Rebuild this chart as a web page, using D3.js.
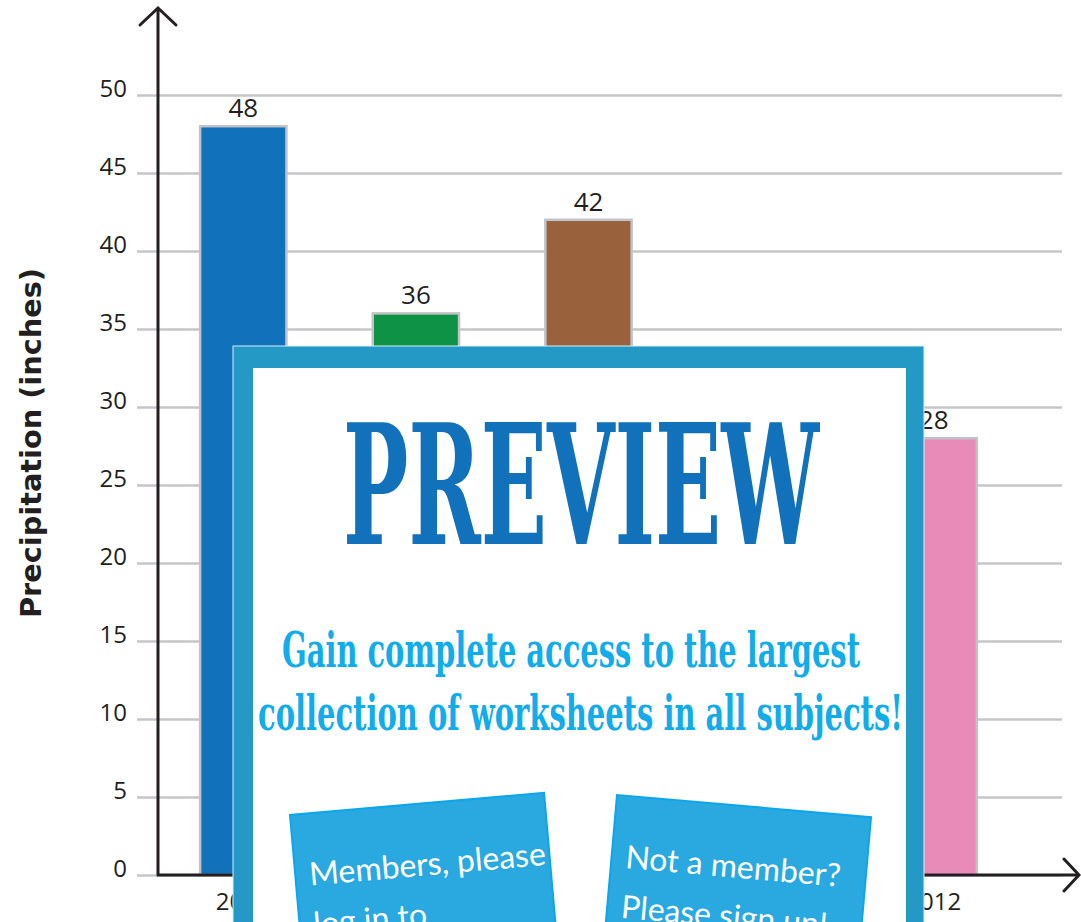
<!DOCTYPE html>
<html>
<head>
	<meta charset="utf-8">
	<title>Precipitation</title>
	<script src="https://d3js.org/d3.v7.min.js"></script>
	<style>
		body { margin: 0; background: #fff; }
		svg { display: block; }
	</style>
</head>
<body>
	<div class="chart"></div>

	<script type="text/javascript">

		// data
		var years = ['2008', '2009', '2010', '2011', '2012']
		var precip = [48, 36, 42, 24, 28]
		var barColors = ['#1172bb', '#0e9346', '#99623c', '#7b4fa0', '#e88bb8']
		var yTicks = [0, 5, 10, 15, 20, 25, 30, 35, 40, 45, 50]

		var width = 1081
		var height = 922

		var svg = d3
			.select('.chart')
			.append('svg')
			.attr('width', width)
			.attr('height', height)

		// scales
		var xScale = d3.scaleBand()
			.domain(years)
			.range([157, 1020])
			.paddingInner(0.5)
			.paddingOuter(0.25)
		var yScale = d3.scaleLinear().domain([0, 50]).range([875, 95])

		// gridlines + y tick labels
		var yAxis = d3.axisLeft(yScale)
			.tickValues(yTicks)
			.tickSize(-925)
			.tickPadding(10)
		var gy = svg.append('g')
			.attr('transform', 'translate(137, 0)')
			.call(yAxis)
		gy.select('.domain').remove()
		gy.selectAll('line').attr('stroke', '#c6c6ca').attr('stroke-width', 2.5)
		gy.selectAll('text')
			.attr('dy', '0.05em')
			.style('font-family', '"Open Sans", "Noto Sans", sans-serif')
			.style('font-size', '24px')
			.style('fill', '#231f20')

		// bars
		svg.append('g')
			.selectAll('rect')
			.data(precip)
			.enter()
			.append('rect')
			.attr('x', (d, i) => xScale(years[i]))
			.attr('y', (d) => yScale(d))
			.attr('width', xScale.bandwidth())
			.attr('height', (d) => yScale(0) - yScale(d))
			.attr('fill', (d, i) => barColors[i])
			.attr('stroke', '#c3c3c7')
			.attr('stroke-width', 2.5)

		// value labels
		svg.append('g')
			.selectAll('text')
			.data(precip)
			.enter()
			.append('text')
			.attr('x', (d, i) => xScale(years[i]) + xScale.bandwidth() / 2)
			.attr('y', (d) => yScale(d) - 9)
			.attr('text-anchor', 'middle')
			.style('font-family', '"Open Sans", "Noto Sans", sans-serif')
			.style('font-size', '26px')
			.style('fill', '#231f20')
			.text((d) => d)

		// x axis labels
		var xAxis = d3.axisBottom(xScale).tickSize(0).tickPadding(18)
		var gx = svg.append('g')
			.attr('transform', 'translate(0, 875)')
			.call(xAxis)
		gx.select('.domain').remove()
		gx.selectAll('text')
			.style('font-family', '"Open Sans", "Noto Sans", sans-serif')
			.style('font-size', '24px')
			.style('fill', '#231f20')

		// axis lines with arrows
		var axisLines = svg.append('g')
			.attr('fill', 'none')
			.attr('stroke', '#231f20')
			.attr('stroke-width', 3)
		axisLines.append('path').attr('d', 'M158,876 V8')
		axisLines.append('path').attr('d', 'M140,25 L158,8 L176,25').attr('stroke-linecap', 'round')
		axisLines.append('path').attr('d', 'M157,875 H1078')
		axisLines.append('path').attr('d', 'M1064,859 L1079,875 L1064,891').attr('stroke-linecap', 'round')

		// y axis title
		svg.append('text')
			.attr('transform', 'translate(41, 443) rotate(-90)')
			.attr('text-anchor', 'middle')
			.attr('textLength', 350)
			.attr('lengthAdjust', 'spacingAndGlyphs')
			.style('font-family', '"DejaVu Sans", sans-serif')
			.style('font-weight', 'bold')
			.style('font-size', '28px')
			.style('fill', '#231f20')
			.text('Precipitation (inches)')

		// preview overlay
		var ov = svg.append('g')
		ov.append('rect')
			.attr('x', 233).attr('y', 346)
			.attr('width', 691).attr('height', 620)
			.attr('fill', '#2499c5')
			.attr('stroke', '#d8eef7').attr('stroke-width', 1)
		ov.append('rect')
			.attr('x', 253).attr('y', 368)
			.attr('width', 653).attr('height', 620)
			.attr('fill', '#fff')

		ov.append('text')
			.attr('x', 343).attr('y', 544)
			.attr('textLength', 476)
			.attr('lengthAdjust', 'spacingAndGlyphs')
			.style('font-family', '"DejaVu Serif Condensed", "DejaVu Serif", serif')
			.style('font-weight', 'bold')
			.style('font-size', '166px')
			.style('fill', '#1172bb')
			.text('PREVIEW')

		var promo = ['Gain complete access to the largest', 'collection of worksheets in all subjects!']
		ov.append('text')
			.attr('x', 282).attr('y', 667)
			.attr('textLength', 578)
			.attr('lengthAdjust', 'spacingAndGlyphs')
			.style('font-family', '"DejaVu Serif Condensed", "DejaVu Serif", serif')
			.style('font-weight', 'bold')
			.style('font-size', '48px')
			.style('fill', '#12acea')
			.text(promo[0])
		ov.append('text')
			.attr('x', 258).attr('y', 730)
			.attr('textLength', 645)
			.attr('lengthAdjust', 'spacingAndGlyphs')
			.style('font-family', '"DejaVu Serif Condensed", "DejaVu Serif", serif')
			.style('font-weight', 'bold')
			.style('font-size', '48px')
			.style('fill', '#12acea')
			.text(promo[1])

		// buttons
		var buttons = [
			{ x: 290, y: 815, a: -5, lines: ['Members, please', 'log in to'] },
			{ x: 617, y: 795, a: 5, lines: ['Not a member?', 'Please sign up!'] }
		]
		var btn = ov.selectAll('.btn')
			.data(buttons)
			.enter()
			.append('g')
			.attr('class', 'btn')
			.attr('transform', (d) => `translate(${d.x}, ${d.y}) rotate(${d.a})`)
		btn.append('rect')
			.attr('width', 255).attr('height', 220)
			.attr('fill', '#29a9e0')
			.attr('stroke', '#0ba6ec').attr('stroke-width', 2)
		btn.selectAll('text')
			.data((d) => d.lines)
			.enter()
			.append('text')
			.attr('x', 14)
			.attr('y', (d, i) => 72 + i * 50)
			.style('font-family', 'Lato, sans-serif')
			.style('font-size', '32px')
			.style('fill', '#fff')
			.text((d) => d)

	</script>
</body>
</html>
